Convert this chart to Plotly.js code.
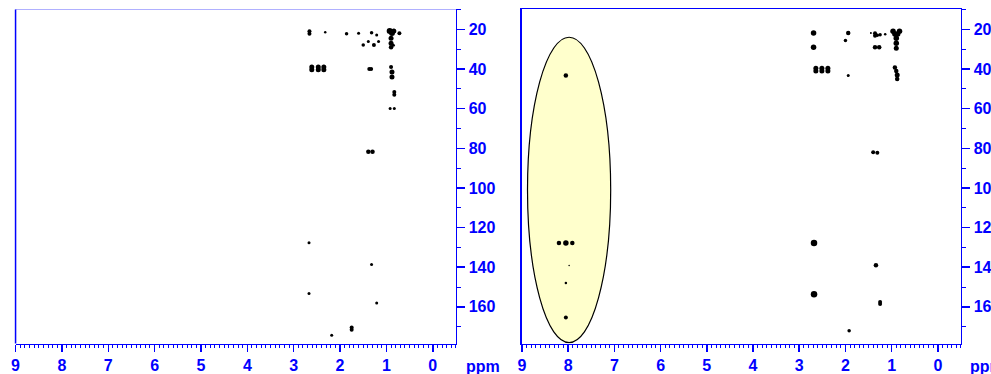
<!DOCTYPE html>
<html>
<head>
<meta charset="utf-8">
<script src="https://cdn.plot.ly/plotly-3.0.1.min.js"></script>
<style>html,body{margin:0;padding:0;background:#fff;}#chart{width:991px;height:374px;}</style>
</head>
<body>
<div id="chart"></div>
<script>
// Left spectrum peaks: 1H shift (ppm), 13C shift (ppm), blob size
const leftH = [2.66,2.66,2.32,1.86,1.60,1.32,1.21,1.39,1.50,1.27,1.17,
  0.93,0.88,0.84,0.90,0.90,0.90,0.72,0.85,
  2.61,2.61,2.47,2.47,2.35,2.35,1.37,1.33,0.90,0.88,0.88,0.83,0.83,0.92,0.83,
  1.39,1.30,2.67,1.32,2.67,1.21,1.75,1.75,2.18];
const leftC = [21.0,22.2,21.5,22.2,22.0,21.7,22.9,26.2,27.9,27.9,26.2,
  20.8,21.8,20.8,24.5,27.0,29.0,22.0,28.0,
  39.0,40.4,39.0,40.4,39.0,40.4,40.0,40.0,39.0,41.5,44.0,51.6,53.0,60.0,60.0,
  81.8,81.8,127.7,138.6,153.3,158.0,170.4,171.6,174.3];
const leftS = [4,4,2.5,3.5,3,3.5,3,3,3.5,4,3,
  6,6,5,5,5,4.5,4,3,
  5,5,5,5,5,5,4,4,4,5,5,4,4,3,3,
  4.5,4.5,3,3,3,3,4,4,3];

// Right spectrum peaks
const rightH = [2.69,2.69,1.94,2.00,1.45,1.36,1.36,1.31,1.25,1.36,1.27,1.14,
  0.97,0.83,0.93,0.87,0.90,0.90,0.90,
  2.64,2.64,2.51,2.51,2.38,2.38,1.94,0.93,0.90,0.88,0.88,
  1.40,1.31,2.68,1.34,2.68,1.25,1.25,1.92,
  8.05,8.20,8.05,7.91,7.98,8.05,8.05];
const rightC = [21.8,29.0,21.8,25.6,21.8,22.0,23.3,23.0,22.7,29.0,29.0,22.5,
  21.0,21.0,22.3,22.3,24.5,27.0,29.5,
  39.6,41.0,39.6,41.0,39.6,41.0,43.3,39.3,41.0,43.0,45.0,
  82.0,82.3,127.8,139.0,153.6,157.6,158.6,172.0,
  43.3,127.8,127.8,127.8,139.1,148.0,165.4];
const rightS = [5.5,5.5,4.5,3.5,2,4,4,3.5,3.5,4.5,4.5,2.5,
  5.5,5.5,5.5,5.5,5.5,5.5,5,
  5,5,5,5,5,5,3,4.5,4.5,5,4.5,
  4,4,6.5,4.5,6.5,4,4,3.5,
  4.5,4.5,5.5,4.5,1.5,2.5,4];

// Highlight ellipse around the aromatic region (1H range, 13C range)
const ellipseH = [8.88, 7.08];
const ellipseC = [24, 178];

const xTicks = [9,8,7,6,5,4,3,2,1,0];
const yTicks = [20,40,60,80,100,120,140,160];

const BLUE = '#0000ff';
const tickFont = {family: 'Arial, Liberation Sans, sans-serif', size: 16, color: BLUE, weight: 'bold'};

function xAxis(domain, anchor, mirror) {
  return {
    domain: domain, anchor: anchor, range: [9, -0.5],
    tickmode: 'array', tickvals: xTicks, ticktext: xTicks.map(v => '<b>' + v + '</b>'),
    ticks: 'outside', ticklen: 7, tickwidth: 1.5, tickcolor: BLUE,
    minor: {dtick: 0.1, tick0: 0, ticks: 'outside', ticklen: 3, tickwidth: 1, tickcolor: BLUE, showgrid: false},
    showline: true, linecolor: BLUE, linewidth: 1.5, mirror: mirror,
    showgrid: false, zeroline: false, tickfont: tickFont, fixedrange: true
  };
}
function yAxis(domain, anchor, mirror) {
  return {
    domain: domain, anchor: anchor, side: 'right', range: [178.5, 10],
    tickmode: 'array', tickvals: yTicks, ticktext: yTicks.map(v => '<b>' + v + '</b>'),
    ticks: 'outside', ticklen: 8, tickwidth: 1.5, tickcolor: BLUE,
    minor: {dtick: 10, tick0: 0, ticks: 'outside', ticklen: 4, tickwidth: 1, tickcolor: BLUE, showgrid: false},
    showline: true, linecolor: BLUE, linewidth: 1.5, mirror: mirror,
    showgrid: false, zeroline: false, tickfont: tickFont, fixedrange: true
  };
}

const yDom = [0.0815, 0.9746];

const data = [
  {type: 'scatter', mode: 'markers', x: leftH, y: leftC, xaxis: 'x', yaxis: 'y',
   marker: {color: '#000', opacity: 1, size: leftS, line: {width: 0}}, opacity: 1, hoverinfo: 'skip'},
  {type: 'scatter', mode: 'markers', x: rightH, y: rightC, xaxis: 'x2', yaxis: 'y2',
   marker: {color: '#000', opacity: 1, size: rightS, line: {width: 0}}, opacity: 1, hoverinfo: 'skip'}
];

const layout = {
  width: 991, height: 374,
  margin: {l: 0, r: 0, t: 0, b: 0},
  paper_bgcolor: '#fff', plot_bgcolor: '#fff',
  showlegend: false,
  xaxis: xAxis([0.0157, 0.4601], 'y', false),
  yaxis: yAxis(yDom, 'x', false),
  xaxis2: xAxis([0.5267, 0.9697], 'y2', true),
  yaxis2: yAxis(yDom, 'x2', true),
  shapes: [
    {type: 'line', xref: 'x domain', yref: 'y domain', x0: 0, x1: 1, y0: 1, y1: 1,
     line: {color: '#b0b0ff', width: 1.2}},
    {type: 'line', xref: 'x domain', yref: 'y domain', x0: 0, x1: 0, y0: 0, y1: 1,
     line: {color: BLUE, width: 1.5}},
    {type: 'circle', xref: 'x2', yref: 'y2', layer: 'below',
     x0: ellipseH[0], x1: ellipseH[1], y0: ellipseC[0], y1: ellipseC[1],
     fillcolor: '#ffffcc', line: {color: '#000', width: 1.2}}
  ],
  annotations: [
    {xref: 'paper', yref: 'paper', x: 464/991, y: (374-366)/374, xanchor: 'left', yanchor: 'middle',
     text: '<b>ppm</b>', showarrow: false, font: tickFont},
    {xref: 'paper', yref: 'paper', x: 968/991, y: (374-366)/374, xanchor: 'left', yanchor: 'middle',
     text: '<b>ppm</b>', showarrow: false, font: tickFont}
  ]
};

Plotly.newPlot('chart', data, layout, {displayModeBar: false, staticPlot: true});
</script>
</body>
</html>
